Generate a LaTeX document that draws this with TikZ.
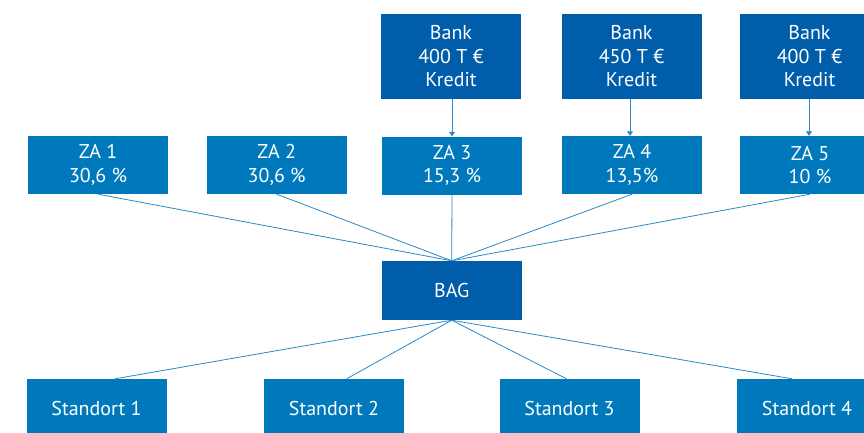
\documentclass[tikz,border=0pt]{standalone}
\usepackage{fontspec}
\setmainfont{PT Sans}
\usetikzlibrary{arrows.meta}
\definecolor{darkb}{HTML}{005DA9}
\definecolor{lightb}{HTML}{0079BC}
\definecolor{linec}{HTML}{2A88C8}
\begin{document}
\begin{tikzpicture}[x=1pt,y=-1pt,
  box/.style={minimum width=140pt, inner sep=0pt, text=white, align=center,
    font=\fontsize{20}{23.5}\selectfont},
  bankbox/.style={box, fill=darkb, minimum height=85pt},
  zabox/.style={box, fill=lightb, minimum height=58pt},
  bagbox/.style={box, fill=darkb, minimum height=59pt},
  sitebox/.style={box, fill=lightb, minimum height=58pt},
  conn/.style={draw=linec, line width=0.8pt},
  arr/.style={conn, -{Triangle[width=6pt,length=4.5pt]}}
]
\useasboundingbox (0,0) rectangle (864,433);
\clip (0,0) rectangle (864,433);

\node[bankbox] (b1) at (451,56.5) {Bank\\400 T €\\Kredit};
\node[bankbox] (b2) at (631.5,56.5) {Bank\\450 T €\\Kredit};
\node[bankbox] (b3) at (809.5,56.5) {Bank\\400 T €\\Kredit};

\node[zabox] (z1) at (98,165) {ZA 1\\30,6 \%};
\node[zabox] (z2) at (276.7,165) {ZA 2\\30,6 \%};
\node[zabox] (z3) at (452,165.5) {ZA 3\\15,3 \%};
\node[zabox] (z4) at (632,165) {ZA 4\\13,5\%};
\node[zabox] (z5) at (810,165) {ZA 5\\10 \%};

\node[bagbox] (bag) at (451.7,290.5) {BAG};

\node[sitebox] (s1) at (96.5,408) {Standort 1};
\node[sitebox] (s2) at (334,408) {Standort 2};
\node[sitebox] (s3) at (569.5,408) {Standort 3};
\node[sitebox] (s4) at (807,408) {Standort 4};

\draw[arr] ([xshift=1pt]b1.south) -- ([xshift=1pt]b1.south |- z3.north);
\draw[arr] ([xshift=-1.5pt]b2.south) -- ([xshift=-1.5pt]b2.south |- z4.north);
\draw[arr] ([xshift=-0.5pt]b3.south) -- ([xshift=-0.5pt]b3.south |- z5.north);

\foreach \z in {z1,z2,z3,z4,z5}
  \draw[conn] (\z.south) -- (bag.north);

\draw[conn] (bag.south) -- ([xshift=18.5pt]s1.north);
\draw[conn] (bag.south) -- ([xshift=12.7pt]s2.north);
\draw[conn] (bag.south) -- ([xshift=-3pt]s3.north);
\draw[conn] (bag.south) -- ([xshift=-15pt]s4.north);
\end{tikzpicture}
\end{document}
